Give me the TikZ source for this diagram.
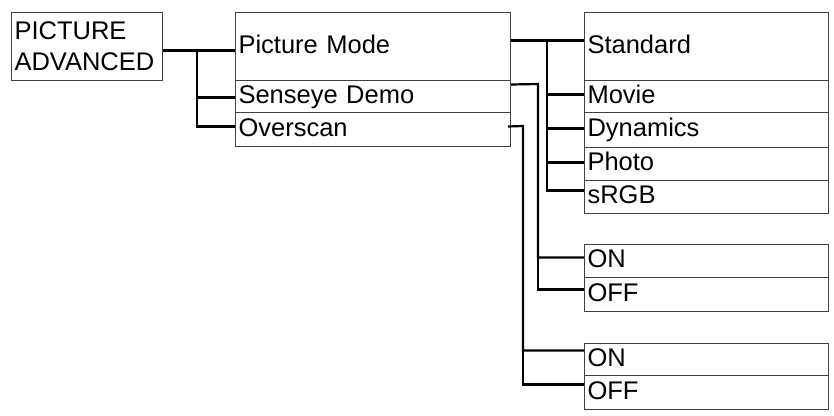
\documentclass[tikz,border=0pt]{standalone}
\usepackage{fontspec}
\setmainfont{Liberation Sans}
\usetikzlibrary{positioning}

\begin{document}
\begin{tikzpicture}[x=1pt, y=-1pt,
		menu/.style={draw=black!75, line width=1pt, anchor=north west, inner xsep=3pt, inner ysep=0pt,
			font=\fontsize{25.5}{31}\selectfont, align=left, text height=18pt, text depth=5pt},
		link/.style={black, line width=2.2pt}]
	\useasboundingbox (0,0) rectangle (834,415);
	% top level
	\node[menu, text width=145pt, minimum height=68pt, text height=, text depth=] (adv) at (11,12) {PICTURE\\ADVANCED};
	% second level
	\node[menu, text width=269pt, minimum height=68pt] (pmode) at (235,12) {Picture Mode};
	\node[menu, text width=269pt, minimum height=32pt] (senseye) at (235,80) {Senseye Demo};
	\node[menu, text width=269pt, minimum height=34pt] (overscan) at (235,112) {Overscan};
	% picture modes
	\node[menu, text width=238pt, minimum height=68pt] (std) at (584,12) {Standard};
	\node[menu, text width=238pt, minimum height=32pt] (movie) at (584,80) {Movie};
	\node[menu, text width=238pt, minimum height=35pt] (dyn) at (584,112) {Dynamics};
	\node[menu, text width=238pt, minimum height=33pt] (photo) at (584,147) {Photo};
	\node[menu, text width=238pt, minimum height=33pt] (srgb) at (584,180) {sRGB};
	% on / off
	\node[menu, text width=238pt, minimum height=33pt] (onA) at (584,244) {ON};
	\node[menu, text width=238pt, minimum height=34pt] (offA) at (584,277) {OFF};
	\node[menu, text width=238pt, minimum height=32pt] (onB) at (584,343) {ON};
	\node[menu, text width=238pt, minimum height=34pt] (offB) at (584,375) {OFF};

	\coordinate (busA) at (197,50);
	\coordinate (busB) at (547,40);
	\coordinate (busC) at (538,84);
	\coordinate (busD) at (523,126);

	\draw[link] ([yshift=-4pt]adv.east) -- ([yshift=-4pt]pmode.west);
	\draw[link] (busA) |- ([yshift=-1pt]senseye.west);
	\draw[link] (busA) |- ([yshift=3pt]overscan.west);

	\draw[link] ([yshift=6pt]pmode.east) -- ([yshift=6pt]std.west);
	\draw[link] (busB) |- ([yshift=2pt]movie.west);
	\draw[link] (busB) |- ([yshift=1.5pt]dyn.west);
	\draw[link] (busB) |- ([yshift=1.5pt]photo.west);
	\draw[link] (busB) |- ([yshift=6.5pt]srgb.west);

	\draw[link] ([yshift=12pt]senseye.east) -- (busC) |- ([yshift=3.5pt]onA.west);
	\draw[link] (busC) |- ([yshift=5pt]offA.west);

	\draw[link] ([xshift=-3pt, yshift=3pt]overscan.east) -- (busD) |- ([yshift=9pt]onB.west);
	\draw[link] (busD) |- ([yshift=8pt]offB.west);
\end{tikzpicture}
\end{document}
